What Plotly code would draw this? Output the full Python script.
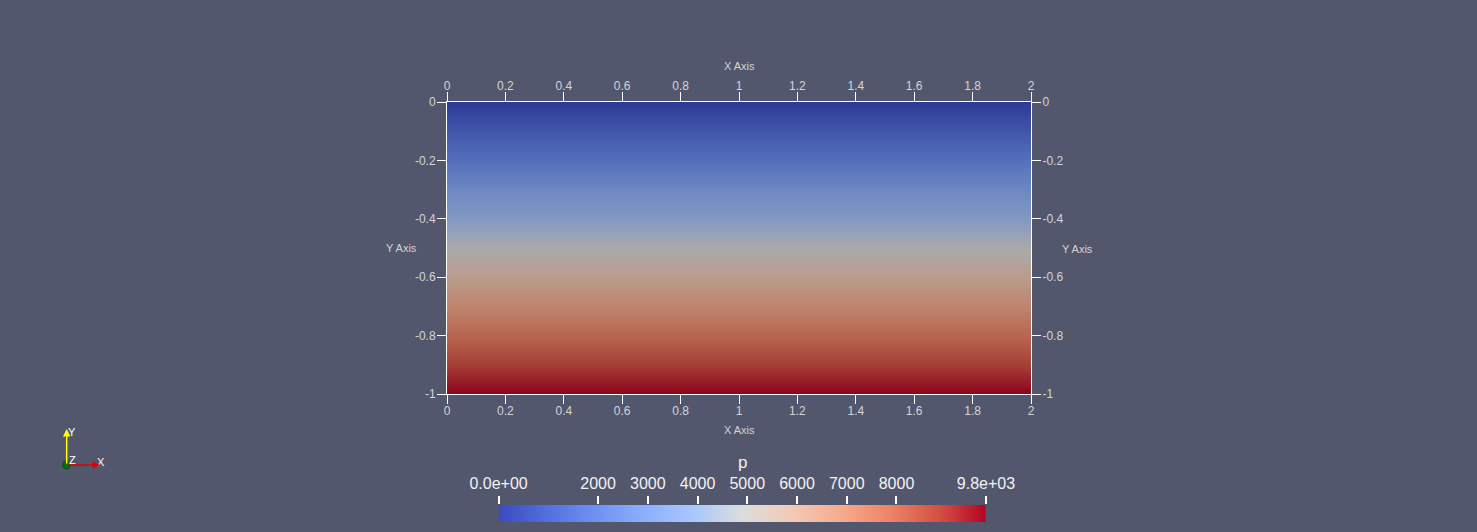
import plotly.graph_objects as go

# ---------------- data ----------------
# depth levels (y) and pressure p (linear hydrostatic field)
y_levels = [0.0, -0.1, -0.2, -0.3, -0.4, -0.5, -0.6, -0.7, -0.8, -0.9, -1.0]
p_values = [0, 980, 1960, 2940, 3920, 4900, 5880, 6860, 7840, 8820, 9800]
x_cols = [0.0, 2.0]

x_tick_vals = [0, 0.2, 0.4, 0.6, 0.8, 1, 1.2, 1.4, 1.6, 1.8, 2]
x_tick_text = ["0", "0.2", "0.4", "0.6", "0.8", "1", "1.2", "1.4", "1.6", "1.8", "2"]
y_tick_vals = [0, -0.2, -0.4, -0.6, -0.8, -1]
y_tick_text = ["0", "-0.2", "-0.4", "-0.6", "-0.8", "-1"]

cbar_tick_vals = [0, 2000, 3000, 4000, 5000, 6000, 7000, 8000, 9800]
cbar_tick_text = ["0.0e+00", "2000", "3000", "4000", "5000", "6000", "7000", "8000", "9.8e+03"]

# ---------------- styles ----------------
W, H = 1477, 532
BG = "#52576e"
FONT = "Liberation Sans, Arial, sans-serif"
AX_TXT = "#d4d4d4"

coolwarm = [
    (0.0, (59, 76, 192)), (0.1, (84, 112, 222)), (0.2, (111, 146, 243)),
    (0.3, (141, 176, 254)), (0.4, (170, 199, 253)), (0.5, (221, 221, 221)),
    (0.6, (242, 203, 183)), (0.7, (247, 172, 142)), (0.8, (238, 132, 104)),
    (0.9, (214, 82, 68)), (1.0, (180, 4, 38)),
]
def cs(scale, k=1.0):
    return [[t, "rgb(%d,%d,%d)" % tuple(round(c * k) for c in rgb)] for t, rgb in scale]

lit_scale = cs(coolwarm, 0.77)   # shaded (lit) surface colours
bar_scale = cs(coolwarm, 1.0)

def px(x):
    return x / W
def py(y):
    return 1 - y / H

field_z = [[p for _ in x_cols] for p in p_values]

fig = go.Figure()
fig.add_trace(go.Heatmap(x=x_cols, y=y_levels, z=field_z, zsmooth="best",
                         colorscale=lit_scale, zmin=0, zmax=9800, showscale=False,
                         hoverinfo="skip", xaxis="x", yaxis="y"))
# empty trace to activate the mirrored top/right axes
fig.add_trace(go.Scatter(x=[], y=[], xaxis="x2", yaxis="y2", showlegend=False,
                         hoverinfo="skip"))
# colour legend bar
fig.add_trace(go.Heatmap(x=p_values, y=[0], z=[p_values], zsmooth="best",
                         colorscale=bar_scale, zmin=0, zmax=9800, showscale=False,
                         hoverinfo="skip", xaxis="x3", yaxis="y3"))

xdom = [px(447), px(1031)]
ydom = [py(394), py(102)]

common = dict(showgrid=False, zeroline=False, showline=True, linecolor="white",
              linewidth=1, ticks="outside", ticklen=9, tickcolor="white", tickwidth=1,
              tickfont=dict(family=FONT, size=12, color=AX_TXT), fixedrange=True,
              automargin=False)

fig.update_layout(
    template="none",
    width=W, height=H, autosize=False,
    paper_bgcolor=BG, plot_bgcolor=BG,
    margin=dict(l=0, r=0, t=0, b=0, pad=0, autoexpand=False),
    showlegend=False,
    xaxis=dict(domain=xdom, range=[0, 2], anchor="y", tickmode="array",
               tickvals=x_tick_vals, ticktext=x_tick_text, ticklabelstandoff=-3, **common),
    yaxis=dict(domain=ydom, range=[-1, 0], anchor="x", tickmode="array",
               tickvals=y_tick_vals, ticktext=y_tick_text, ticklabelstandoff=-1, **common),
    xaxis2=dict(range=[0, 2], overlaying="x", side="top", anchor="y2", tickmode="array",
                tickvals=x_tick_vals, ticktext=x_tick_text, ticklabelstandoff=-3, **common),
    yaxis2=dict(range=[-1, 0], overlaying="y", side="right", anchor="x2", tickmode="array",
                tickvals=y_tick_vals, ticktext=y_tick_text, ticklabelstandoff=-1, **common),
    xaxis3=dict(domain=[px(498.6), px(986)], range=[0, 9800], anchor="y3", side="top",
                showgrid=False, zeroline=False, showline=False, ticks="outside",
                ticklen=8, tickcolor="white", tickwidth=1.5, tickmode="array",
                tickvals=cbar_tick_vals, ticktext=cbar_tick_text, automargin=False,
                ticklabelstandoff=1,
                tickfont=dict(family=FONT, size=16, color="#f2f2f2"), fixedrange=True),
    yaxis3=dict(domain=[py(522), py(505)], range=[-0.5, 0.5], anchor="x3",
                visible=False, fixedrange=True, automargin=False),
)

ann_font = dict(family=FONT, size=11, color=AX_TXT)
annotations = [
    dict(text="X Axis", x=px(739), y=py(66), font=ann_font),
    dict(text="X Axis", x=px(739), y=py(430), font=ann_font),
    dict(text="Y Axis", x=px(401), y=py(248), font=ann_font),
    dict(text="Y Axis", x=px(1077), y=py(249), font=ann_font),
    dict(text="p", x=px(742), y=py(462), font=dict(family=FONT, size=17, color="#f2f2f2")),
    dict(text="Y", x=px(71.5), y=py(432), font=dict(family=FONT, size=11, color="white")),
    dict(text="Z", x=px(72), y=py(460), font=dict(family=FONT, size=11, color="white")),
    dict(text="X", x=px(100.5), y=py(462), font=dict(family=FONT, size=11, color="white")),
]
for a in annotations:
    a.update(xref="paper", yref="paper", showarrow=False, xanchor="center", yanchor="middle")

# orientation triad arrows
annotations += [
    dict(x=px(66.7), y=py(429), ax=0, ay=36, xref="paper", yref="paper", text="",
         showarrow=True, arrowhead=2, arrowsize=1, arrowwidth=1.5, arrowcolor="#ffff00"),
    dict(x=px(100), y=py(465), ax=-33, ay=0, xref="paper", yref="paper", text="",
         showarrow=True, arrowhead=2, arrowsize=1, arrowwidth=1.5, arrowcolor="#e00000"),
]
fig.update_layout(annotations=annotations)

fig.add_shape(type="circle", xref="paper", yref="paper",
              x0=px(62.5), x1=px(70.5), y0=py(469), y1=py(461),
              fillcolor="#0a6b14", line=dict(color="#0a5010", width=1))

fig.write_html("out.html", config={"displayModeBar": False},
               post_script="document.body.style.margin='0';document.body.style.overflow='hidden';")
